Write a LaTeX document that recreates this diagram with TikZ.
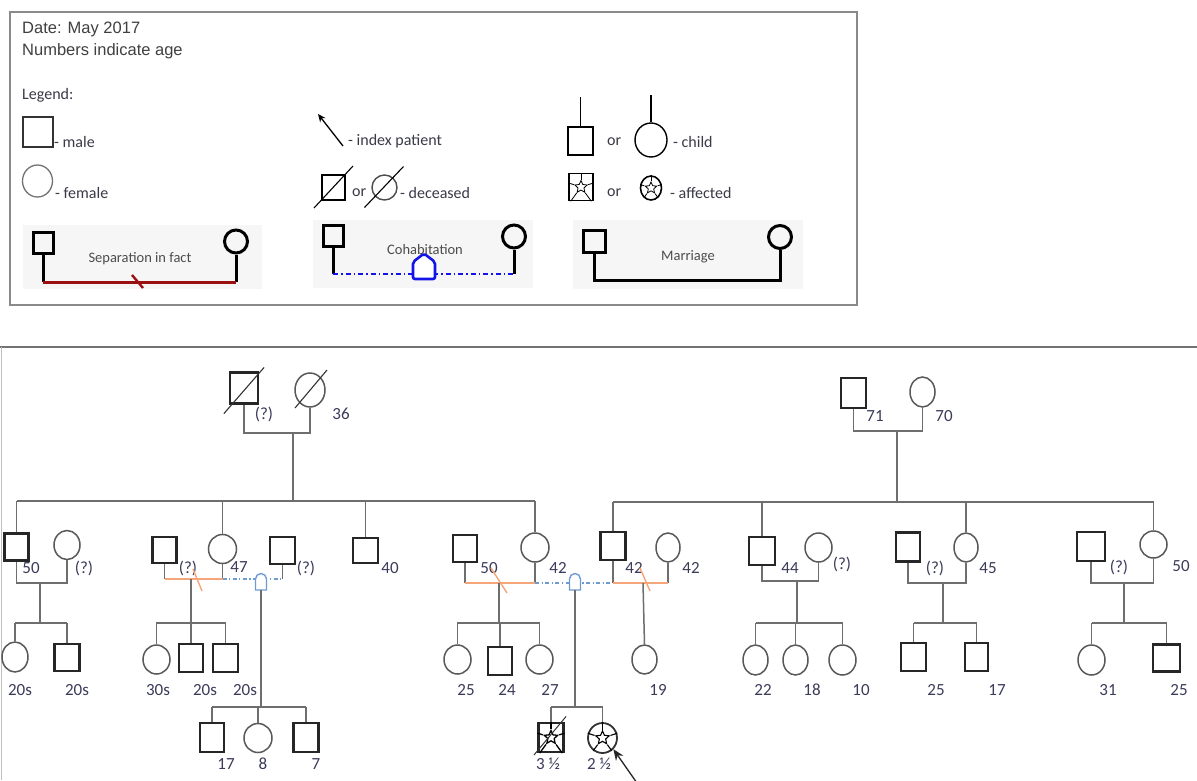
\documentclass[tikz,border=0pt]{standalone}
\usepackage{fontspec}
\setmainfont{Carlito}
\newfontfamily\arialf{Liberation Sans}
\usetikzlibrary{shapes.geometric,arrows.meta,calc}
\definecolor{agecol}{HTML}{3B3B5A}
\definecolor{linec}{HTML}{6E6E6E}
\definecolor{sepor}{HTML}{F4A57A}
\definecolor{cohbl}{HTML}{6F9BD3}
\definecolor{darkred}{HTML}{9B1010}
\definecolor{legblue}{HTML}{1414E8}
\definecolor{boxgray}{HTML}{8A8A8A}
\definecolor{bgbox}{HTML}{F6F6F6}
\definecolor{legtxt}{HTML}{3A3A48}
\newcommand{\affpat}[3]{%
  \node[star,star points=5,star point ratio=2.1,draw=black,line width=#3,minimum size=#2,inner sep=0pt] (#1st) at (#1.center) {};
  \foreach \k/\ang in {1/90,2/162,3/234,4/306,5/18}{\draw[line width=#3] (#1st.outer point \k) -- (#1.\ang);}
}
\begin{document}
\begin{tikzpicture}[x=1pt,y=-1pt,
 male/.style={rectangle,draw=black!85,line width=2.2pt,inner sep=0pt,minimum width=25pt,minimum height=28pt},
 female/.style={ellipse,draw=black!65,line width=1.5pt,inner sep=0pt,minimum width=27pt,minimum height=30pt},
 link/.style={draw=linec,line width=1.5pt},
 seprel/.style={draw=sepor,line width=1.8pt},
 cohrel/.style={draw=cohbl,line width=1.6pt,dash pattern=on 4pt off 2.5pt on 1.2pt off 2.5pt},
 age/.style={font=\fontsize{17}{17}\selectfont,text=agecol,inner sep=0pt},
 legtext/.style={font=\fontsize{16}{16}\selectfont,text=legtxt,inner sep=0pt,anchor=west},
 reltext/.style={font=\fontsize{14.5}{14.5}\selectfont,text=black!70,inner sep=0pt},
 thickb/.style={draw=black,line width=3pt},
 lmale/.style={rectangle,draw=black,line width=3pt,inner sep=0pt,minimum width=20pt,minimum height=21pt},
 lfemale/.style={circle,draw=black,line width=3pt,inner sep=0pt,minimum size=23pt},
 bg/.style={fill=bgbox,draw=none}
]
\useasboundingbox (0,0) rectangle (1197,780);
\fill[white] (0,0) rectangle (1197,780);

% ---------------- legend ----------------
\draw[boxgray,line width=1.5pt] (10,12) rectangle (857,305);
\node[anchor=west,font=\arialf\fontsize{16.5}{16.5}\selectfont,text=black!75,inner sep=0pt] (date) at (22,29) {Date: May 2017};
\node[anchor=west,font=\arialf\fontsize{16.5}{16.5}\selectfont,text=black!75,inner sep=0pt] (numb) at (22,51) {Numbers indicate age};
\node[legtext] (legt) at (22,95) {Legend:};

\node[rectangle,draw=black!80,line width=2pt,minimum width=30pt,minimum height=30pt,inner sep=0pt] (lm) at (37.5,132) {};
\node[legtext] (lmt) at (54,142) {- male};
\node[ellipse,draw=black!55,line width=1.3pt,minimum width=30pt,minimum height=32pt,inner sep=0pt] (lf) at (37.5,181) {};
\node[legtext] (lft) at (55,193) {- female};

\coordinate (ia1) at (343,146);
\coordinate (ia2) at (318,114);
\draw[-{Stealth[length=8pt,width=7pt]},line width=1.3pt] (ia1) -- (ia2);
\node[legtext] (iat) at (348,141) {- index patient};

\node[rectangle,draw=black,line width=1.8pt,minimum width=23pt,minimum height=25pt,inner sep=0pt] (ld1) at (333.5,187.5) {};
\draw[line width=1.1pt] ([shift={(-7pt,-7pt)}]ld1.south west) -- ([shift={(7pt,8pt)}]ld1.north east);
\node[legtext] (ldor) at (352,193) {or};
\node[circle,draw=black!70,line width=1.4pt,minimum size=25pt,inner sep=0pt] (ld2) at (384.5,187.5) {};
\draw[line width=1.1pt] ([shift={(-20pt,-20pt)}]ld2.center) -- ([shift={(19pt,21pt)}]ld2.center);
\node[legtext] (ldt) at (400,193) {- deceased};

\node[rectangle,draw=black,line width=1.6pt,minimum width=25pt,minimum height=28pt,inner sep=0pt] (lc1) at (580.5,141) {};
\coordinate (lc1t) at (580.5,97);
\draw[line width=1.6pt] (lc1t) -- (lc1.north);
\node[legtext] (lcor) at (607,142) {or};
\node[ellipse,draw=black,line width=1.4pt,minimum width=32pt,minimum height=34pt,inner sep=0pt] (lc2) at (651,140) {};
\coordinate (lc2t) at (651,95);
\draw[line width=1.6pt] (lc2t) -- (lc2.north);
\node[legtext] (lct) at (673,142) {- child};

\node[rectangle,draw=black,line width=1.6pt,minimum width=24pt,minimum height=27pt,inner sep=0pt] (la1) at (581,187) {};
\affpat{la1}{13pt}{0.8pt}
\node[legtext] (laor) at (607,193) {or};
\node[ellipse,draw=black,line width=1.6pt,minimum width=21pt,minimum height=24pt,inner sep=0pt] (la2) at (651,188) {};
\affpat{la2}{12pt}{0.8pt}
\node[legtext] (lat) at (670,193) {- affected};

% separation box
\fill[bg] (23,225) rectangle (262,289);
\node[lmale] (rs1) at (43,242.5) {};
\node[lfemale] (rs2) at (236,241.5) {};
\coordinate (rs1b) at (43,282);
\coordinate (rs2b) at (236,282);
\draw[thickb] (rs1.south) -- (rs1b);
\draw[thickb] (rs2.south) -- (rs2b);
\draw[draw=darkred,line width=3pt] (rs1b) -- (rs2b);
\draw[draw=darkred,line width=2.4pt] (132,275) -- (143,288);
\node[reltext] (rst) at (140,259) {Separation in fact};

% cohabitation box
\fill[bg] (313,220) rectangle (533,288);
\node[lmale] (rc1) at (333,236) {};
\node[lfemale] (rc2) at (514,236.5) {};
\coordinate (rc1b) at (333,274);
\coordinate (rc2b) at (514,274);
\draw[thickb] (rc1.south) -- (rc1b);
\draw[thickb] (rc2.south) -- (rc2b);
\draw[draw=legblue,line width=2pt,dash pattern=on 5pt off 3pt on 1.5pt off 3pt] (rc1b) -- (rc2b);
\draw[legblue,line width=2.6pt,fill=white,rounded corners=2pt] (413,279) -- (413,262) -- (424,253.5) -- (435,262) -- (435,279) -- cycle;
\node[reltext] (rct) at (425,250) {Cohabitation};

% marriage box
\fill[bg] (573,220) rectangle (803,289);
\node[lmale,minimum width=22pt,minimum height=22pt] (rm1) at (594,241) {};
\node[lfemale] (rm2) at (780,237) {};
\coordinate (rm1b) at (594,280);
\coordinate (rm2b) at (780,280);
\draw[thickb] (rm1.south) |- (rm2b) -- (rm2.south);
\node[reltext] (rmt) at (688,257) {Marriage};

% ---------------- pedigree frame ----------------
\draw[draw=black!55,line width=1.8pt] (0,347) -- (1197,347);
\draw[draw=black!25,line width=1.2pt] (1.5,347) -- (1.5,780);

% Generation I left
\node[male,minimum width=28pt,minimum height=31pt] (A) at (244,388) {};
\node[female,minimum width=30pt,minimum height=34pt] (B) at (310,390) {};
\draw[line width=1.1pt,black!80] ([shift={(-5pt,-9pt)}]A.south west) -- ([shift={(5pt,4pt)}]A.north east);
\draw[line width=1.1pt,black!80] ([shift={(-15pt,-18pt)}]B.center) -- ([shift={(17pt,20pt)}]B.center);
\node[age] (tA) at (264,414) {(?)};
\node[age] (tB) at (341,414) {36};
\coordinate (mA) at (293,433);
\draw[link] (A.south) |- (mA) -| (B.south);
\coordinate (sL1) at (16.5,501);
\coordinate (sL2) at (535,501);
\draw[link] (mA) -- (mA |- sL1);
\draw[link] (sL1) -- (sL2);

% Generation I right
\node[male,minimum width=25pt,minimum height=30pt] (AA) at (853.5,393) {};
\node[female,minimum width=25pt,minimum height=30pt] (AB) at (922.5,392) {};
\node[age] (tAA) at (875,416) {71};
\node[age] (tAB) at (944,416) {70};
\coordinate (mAA) at (897,431);
\draw[link] (AA.south) |- (mAA) -| (AB.south);
\coordinate (sR1) at (613,502);
\coordinate (sR2) at (1153.5,502);
\draw[link] (mAA) -- (mAA |- sR1);
\draw[link] (sR1) -- (sR2);

% Family C + D
\node[male,minimum width=24pt,minimum height=27pt] (C) at (16.5,547) {};
\node[female,minimum width=26pt,minimum height=29pt] (D) at (67,545) {};
\node[age] (tC) at (31,568) {50};
\node[age] (tD) at (84,568) {(?)};
\draw[link] (C.north) -- (C.north |- sL1);
\coordinate (mC) at (40,583);
\draw[link] (C.south) |- (mC) -| (D.south);
\coordinate (sC1) at (15,623);
\coordinate (sC2) at (67,623);
\draw[link] (mC) -- (mC |- sC1);
\draw[link] (sC1) -- (sC2);
\node[female,minimum width=26pt,minimum height=30pt] (E) at (15,657) {};
\node[male,minimum width=25pt,minimum height=27pt] (F) at (67,657.5) {};
\draw[link] (E.north) -- (E.north |- sC1);
\draw[link] (F.north) -- (F.north |- sC1);
\node[age] (tE) at (20,690) {20s};
\node[age] (tF) at (77,690) {20s};

% Family G + H + I
\node[male,minimum width=24pt,minimum height=26pt] (G) at (164.5,550) {};
\node[female,minimum width=28pt,minimum height=29pt] (H) at (222.5,549) {};
\node[male,minimum width=25pt,minimum height=27pt] (I) at (282.5,550.5) {};
\draw[link] (H.north) -- (H.north |- sL1);
\node[age] (tG) at (188,568) {(?)};
\node[age] (tH) at (239,567) {47};
\node[age] (tI) at (306,568) {(?)};
\coordinate (yG) at (0,579);
\draw[link] (G.south) -- (G.south |- yG);
\draw[link] (H.south) -- (H.south |- yG);
\draw[link] (I.south) -- (I.south |- yG);
\draw[seprel] (G.south |- yG) -- (H.south |- yG);
\draw[cohrel] (H.south |- yG) -- (I.south |- yG);
\draw[seprel,line width=1.4pt] (193,569) -- (202,591);
\draw[cohbl,line width=1.4pt,fill=white] (255.5,590) -- (255.5,579) arc[start angle=180,end angle=0,radius=5.5pt] -- (266.5,590) -- cycle;
\coordinate (dG) at (191,579);
\coordinate (sG1) at (156,623);
\coordinate (sG2) at (226,623);
\draw[link] (dG) -- (dG |- sG1);
\draw[link] (sG1) -- (sG2);
\node[female,minimum width=27pt,minimum height=29pt] (J) at (156.5,659.5) {};
\node[male,minimum width=24pt,minimum height=28pt] (K) at (191,658) {};
\node[male,minimum width=25pt,minimum height=28pt] (L) at (225.5,658) {};
\draw[link] (J.north) -- (J.north |- sG1);
\draw[link] (K.north) -- (K.north |- sG1);
\draw[link] (L.north) -- (L.north |- sG1);
\node[age] (tJ) at (158,690) {30s};
\node[age] (tK) at (205,690) {20s};
\node[age] (tL) at (245,690) {20s};
\coordinate (hG) at (261,590);
\coordinate (sM1) at (212,707);
\coordinate (sM2) at (306,707);
\draw[link] (hG) -- (hG |- sM1);
\draw[link] (sM1) -- (sM2);
\node[male,minimum width=24pt,minimum height=29pt] (M) at (212,737.5) {};
\node[female,minimum width=28pt,minimum height=29pt] (N) at (258,738) {};
\node[male,minimum width=25pt,minimum height=29pt] (O) at (306,737.5) {};
\draw[link] (M.north) -- (M.north |- sM1);
\draw[link] (N.north) -- (N.north |- sM1);
\draw[link] (O.north) -- (O.north |- sM1);
\node[age] (tM) at (226,764) {17};
\node[age] (tN) at (263,764) {8};
\node[age] (tO) at (316,764) {7};

% P
\node[male,minimum width=25pt,minimum height=25pt] (P) at (365.5,550.5) {};
\draw[link] (P.north) -- (P.north |- sL1);
\node[age] (tP) at (390,568) {40};

% Families Q R V Y
\node[male,minimum width=24pt,minimum height=27pt] (Q) at (465,548.5) {};
\node[female,minimum width=28pt,minimum height=29pt] (R) at (535,547.5) {};
\node[male,minimum width=25pt,minimum height=28pt] (V) at (613,546) {};
\node[female,minimum width=24pt,minimum height=29pt] (Y) at (668,547.5) {};
\draw[link] (R.north) -- (R.north |- sL2);
\draw[link] (V.north) -- (V.north |- sR1);
\node[age] (tQ) at (489,568) {50};
\node[age] (tR) at (558,568) {42};
\node[age] (tV) at (634,568) {42};
\node[age] (tY) at (691,568) {42};
\coordinate (yQ) at (0,583);
\draw[link] (Q.south) -- (Q.south |- yQ);
\draw[link] (R.south) -- (R.south |- yQ);
\draw[link] (V.south) -- (V.south |- yQ);
\draw[link] (Y.south) -- (Y.south |- yQ);
\draw[seprel] (Q.south |- yQ) -- (R.south |- yQ);
\draw[cohrel] (R.south |- yQ) -- (V.south |- yQ);
\draw[seprel] (V.south |- yQ) -- (Y.south |- yQ);
\draw[seprel,line width=1.4pt] (491,568) -- (507,593);
\draw[seprel,line width=1.4pt] (640,568) -- (650,591);
\draw[cohbl,line width=1.4pt,fill=white] (569.5,590) -- (569.5,579) arc[start angle=180,end angle=0,radius=5.5pt] -- (580.5,590) -- cycle;
\coordinate (dQ) at (499,583);
\coordinate (sQ1) at (457,623);
\coordinate (sQ2) at (539.5,623);
\draw[link] (dQ) -- (dQ |- sQ1);
\draw[link] (sQ1) -- (sQ2);
\node[female,minimum width=27pt,minimum height=29pt] (S) at (457.5,659.5) {};
\node[male,minimum width=24pt,minimum height=28pt] (T) at (500,661) {};
\node[female,minimum width=27pt,minimum height=29pt] (U) at (539.5,659.5) {};
\draw[link] (S.north) -- (S.north |- sQ1);
\draw[link] (T.north) -- (T.north |- sQ1);
\draw[link] (U.north) -- (U.north |- sQ1);
\node[age] (tS) at (466,690) {25};
\node[age] (tT) at (507,690) {24};
\node[age] (tU) at (550,690) {27};
\coordinate (dV) at (643,583);
\node[female,minimum width=25pt,minimum height=29pt] (Z) at (644.5,659.5) {};
\draw[link] (dV) -- (Z.north);
\node[age] (tZ) at (658,690) {19};
\coordinate (hQ) at (575,590);
\coordinate (sW1) at (551,707);
\coordinate (sW2) at (602.5,707);
\draw[link] (hQ) -- (hQ |- sW1);
\draw[link] (sW1) -- (sW2);
\node[male,minimum width=25pt,minimum height=29pt] (W) at (551,737.5) {};
\node[ellipse,draw=black!80,line width=1.8pt,inner sep=0pt,minimum width=29pt,minimum height=30pt] (X) at (602.5,738) {};
\affpat{W}{14pt}{1.3pt}
\affpat{X}{14pt}{1.1pt}
\draw[line width=1pt,black!80] ([shift={(-3.5pt,-2pt)}]W.south west) -- ([shift={(1.5pt,5.5pt)}]W.north east);
\draw[link] (W.north) -- (W.north |- sW1);
\draw[link] (X.north) -- (X.north |- sW1);
\node[age] (tW) at (548,764) {3 ½};
\node[age] (tX) at (599,764) {2 ½};
\coordinate (idx) at (637,783);
\draw[-{Stealth[length=11pt,width=9pt]},line width=1.3pt,black!85] (idx) -- (X.south east);

% Family AC + AD
\node[male,minimum width=26pt,minimum height=28pt] (AC) at (762,551) {};
\node[female,minimum width=27pt,minimum height=29pt] (AD) at (818.5,547.5) {};
\draw[link] (AC.north) -- (AC.north |- sR1);
\node[age] (tAC) at (790,568) {44};
\node[age] (tAD) at (842,564) {(?)};
\coordinate (mAC) at (797,581);
\draw[link] (AC.south) |- (mAC) -| (AD.south);
\coordinate (sAC1) at (755.5,623);
\coordinate (sAC2) at (842.5,623);
\draw[link] (mAC) -- (mAC |- sAC1);
\draw[link] (sAC1) -- (sAC2);
\node[female,minimum width=25pt,minimum height=30pt] (AE) at (755.5,660) {};
\node[female,minimum width=25pt,minimum height=30pt] (AF) at (795.5,660) {};
\node[female,minimum width=27pt,minimum height=30pt] (AG) at (842.5,660) {};
\draw[link] (AE.north) -- (AE.north |- sAC1);
\draw[link] (AF.north) -- (AF.north |- sAC1);
\draw[link] (AG.north) -- (AG.north |- sAC1);
\node[age] (tAE) at (763,690) {22};
\node[age] (tAF) at (812,690) {18};
\node[age] (tAG) at (861,690) {10};

% Family AH + AI
\node[male,minimum width=24pt,minimum height=29pt] (AH) at (908,547) {};
\node[female,minimum width=24pt,minimum height=29pt] (AI) at (966,547.5) {};
\draw[link] (AI.north) -- (AI.north |- sR1);
\node[age] (tAH) at (935,568) {(?)};
\node[age] (tAI) at (988,568) {45};
\coordinate (mAH) at (943,583);
\draw[link] (AH.south) |- (mAH) -| (AI.south);
\coordinate (sAH1) at (913.5,623);
\coordinate (sAH2) at (976.5,623);
\draw[link] (mAH) -- (mAH |- sAH1);
\draw[link] (sAH1) -- (sAH2);
\node[male,minimum width=25pt,minimum height=28pt] (AJ) at (913.5,657) {};
\node[male,minimum width=23pt,minimum height=28pt] (AK) at (976.5,657) {};
\draw[link] (AJ.north) -- (AJ.north |- sAH1);
\draw[link] (AK.north) -- (AK.north |- sAH1);
\node[age] (tAJ) at (936,690) {25};
\node[age] (tAK) at (997,690) {17};

% Family AL + AM
\node[male,minimum width=28pt,minimum height=29pt] (AL) at (1091,546.5) {};
\node[female,minimum width=27pt,minimum height=27pt] (AM) at (1153.5,544.5) {};
\draw[link] (AM.north) -- (AM.north |- sR2);
\node[age] (tAL) at (1119,567) {(?)};
\node[age] (tAM) at (1181,566) {50};
\coordinate (mAL) at (1124,583);
\draw[link] (AL.south) |- (mAL) -| (AM.south);
\coordinate (sAL1) at (1091.5,623);
\coordinate (sAL2) at (1166.5,623);
\draw[link] (mAL) -- (mAL |- sAL1);
\draw[link] (sAL1) -- (sAL2);
\node[female,minimum width=27pt,minimum height=30pt] (AN) at (1091.5,660) {};
\node[male,minimum width=27pt,minimum height=27pt] (AO) at (1166.5,658) {};
\draw[link] (AN.north) -- (AN.north |- sAL1);
\draw[link] (AO.north) -- (AO.north |- sAL1);
\node[age] (tAN) at (1108,690) {31};
\node[age] (tAO) at (1179,690) {25};
\end{tikzpicture}
\end{document}
